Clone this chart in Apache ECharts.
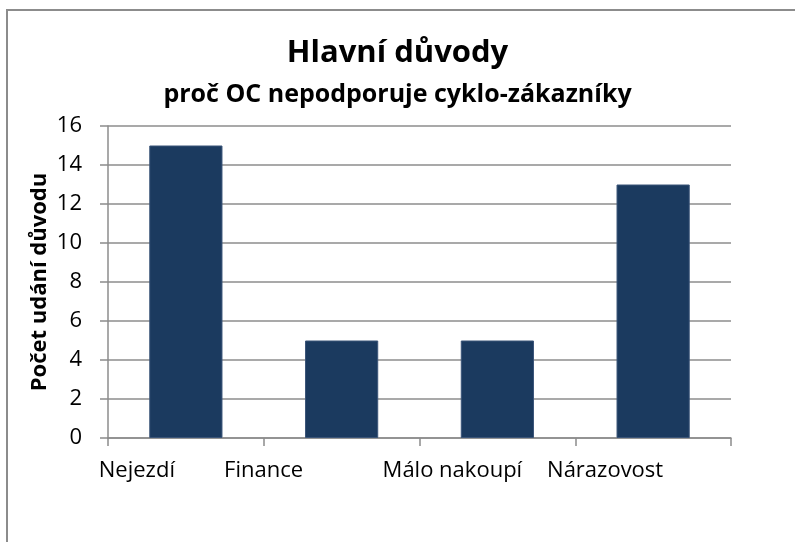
<!doctype html>
<html>
<head>
  <meta charset="utf-8">
  <title>Hlavní důvody</title>
  <script src="https://cdn.jsdelivr.net/npm/echarts@6/dist/echarts.min.js"></script>
  <style>
    body { margin: 0; background: #fff; overflow: hidden; }
    #frame {
      position: absolute; left: 6px; top: 9px;
      width: 900px; height: 700px;
      border: 2px solid #8c8c8c;
    }
    #main { position: absolute; left: 0; top: 0; width: 795px; height: 542px; }
  </style>
</head>
<body>
  <div id="frame"></div>
  <div id="main"></div>
<script>
var categories = ['Nejezdí', 'Finance', 'Málo nakoupí', 'Nárazovost'];
var counts = [15, 5, 5, 13];
var yTicks = [0, 2, 4, 6, 8, 10, 12, 14, 16];

var font = '"Open Sans", "Noto Sans", sans-serif';
var chart = echarts.init(document.getElementById('main'));

var option = {
  backgroundColor: 'transparent',
  animation: false,
  title: {
    text: 'Hlavní důvody',
    subtext: 'proč OC nepodporuje cyklo-zákazníky',
    left: 'center',
    top: 33,
    itemGap: 13,
    textStyle: { fontFamily: font, fontSize: 31, fontWeight: 'bold', color: '#000' },
    subtextStyle: { fontFamily: font, fontSize: 25, fontWeight: 'bold', color: '#000' }
  },
  grid: { left: 108, right: 64, top: 126, bottom: 104 },
  xAxis: {
    type: 'category',
    data: categories,
    axisLine: { lineStyle: { color: '#8c8c8c', width: 1.5 } },
    axisTick: { show: true, length: 8, lineStyle: { color: '#8c8c8c', width: 1.5 } },
    axisLabel: {
      interval: 0,
      hideOverlap: false,
      margin: 22,
      fontFamily: font,
      fontSize: 22,
      color: '#000',
      formatter: function (v, i) { return '{c' + i + '|' + v + '}'; },
      rich: {
        c0: { fontFamily: font, fontSize: 22, padding: [0, 98, 0, 0] },
        c1: { fontFamily: font, fontSize: 22, padding: [0, 156, 0, 0] },
        c2: { fontFamily: font, fontSize: 22, padding: [0, 90, 0, 0] },
        c3: { fontFamily: font, fontSize: 22, padding: [0, 96, 0, 0] }
      }
    }
  },
  yAxis: {
    type: 'value',
    min: yTicks[0],
    max: yTicks[yTicks.length - 1],
    interval: 2,
    name: 'Počet udání důvodu',
    nameLocation: 'middle',
    nameGap: 57,
    nameMoveOverlap: false,
    nameRotate: 90,
    nameTextStyle: { fontFamily: font, fontSize: 22, fontWeight: 'bold', color: '#000' },
    axisLine: { show: true, lineStyle: { color: '#8c8c8c', width: 1.5 } },
    axisTick: { show: true, length: 8, lineStyle: { color: '#8c8c8c', width: 1.5 } },
    axisLabel: { margin: 26, fontFamily: font, fontSize: 22, color: '#000' },
    splitLine: { lineStyle: { color: '#8c8c8c', width: 1.5 } }
  },
  series: [{
    type: 'bar',
    data: counts,
    barWidth: '47%',
    itemStyle: { color: '#1b3a5f', borderColor: '#3b5579', borderWidth: 1 }
  }]
};

chart.setOption(option);
</script>
</body>
</html>
